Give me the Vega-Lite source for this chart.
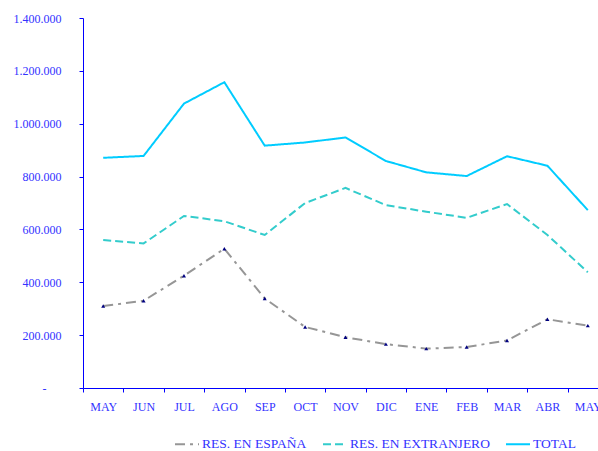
{
  "$schema": "https://vega.github.io/schema/vega-lite/v6.json",
  "width": 525,
  "height": 370,
  "autosize": "none",
  "padding": {"left": 83, "top": 18, "right": -10, "bottom": 63},
  "background": "white",
  "config": {
    "view": {"stroke": null},
    "axis": {
      "domainColor": "#0000ff",
      "tickColor": "#0000ff",
      "labelColor": "#3333ff",
      "labelFont": "Liberation Serif",
      "labelFontSize": 12,
      "grid": false,
      "title": null,
      "tickSize": 4,
      "domainWidth": 1,
      "tickWidth": 1
    },
    "legend": {
      "labelFont": "Liberation Serif",
      "labelFontSize": 13.5,
      "labelColor": "#3333ff"
    },
    "locale": {
      "number": {"decimal": ",", "thousands": ".", "grouping": [3], "currency": ["", " €"]}
    }
  },
  "data": {
    "values": [
      {"mes": "MAY", "serie": "RES. EN ESPAÑA", "valor": 310000},
      {"mes": "JUN", "serie": "RES. EN ESPAÑA", "valor": 330000},
      {"mes": "JUL", "serie": "RES. EN ESPAÑA", "valor": 425000},
      {"mes": "AGO", "serie": "RES. EN ESPAÑA", "valor": 527000},
      {"mes": "SEP", "serie": "RES. EN ESPAÑA", "valor": 339000},
      {"mes": "OCT", "serie": "RES. EN ESPAÑA", "valor": 231000},
      {"mes": "NOV", "serie": "RES. EN ESPAÑA", "valor": 192000},
      {"mes": "DIC", "serie": "RES. EN ESPAÑA", "valor": 166000},
      {"mes": "ENE", "serie": "RES. EN ESPAÑA", "valor": 149000},
      {"mes": "FEB", "serie": "RES. EN ESPAÑA", "valor": 155000},
      {"mes": "MAR", "serie": "RES. EN ESPAÑA", "valor": 180000},
      {"mes": "ABR", "serie": "RES. EN ESPAÑA", "valor": 260000},
      {"mes": "MAY ", "serie": "RES. EN ESPAÑA", "valor": 236000},
      {"mes": "MAY", "serie": "RES. EN EXTRANJERO", "valor": 560000},
      {"mes": "JUN", "serie": "RES. EN EXTRANJERO", "valor": 547000},
      {"mes": "JUL", "serie": "RES. EN EXTRANJERO", "valor": 651000},
      {"mes": "AGO", "serie": "RES. EN EXTRANJERO", "valor": 631000},
      {"mes": "SEP", "serie": "RES. EN EXTRANJERO", "valor": 579000},
      {"mes": "OCT", "serie": "RES. EN EXTRANJERO", "valor": 700000},
      {"mes": "NOV", "serie": "RES. EN EXTRANJERO", "valor": 757000},
      {"mes": "DIC", "serie": "RES. EN EXTRANJERO", "valor": 692000},
      {"mes": "ENE", "serie": "RES. EN EXTRANJERO", "valor": 667000},
      {"mes": "FEB", "serie": "RES. EN EXTRANJERO", "valor": 644000},
      {"mes": "MAR", "serie": "RES. EN EXTRANJERO", "valor": 696000},
      {"mes": "ABR", "serie": "RES. EN EXTRANJERO", "valor": 579000},
      {"mes": "MAY ", "serie": "RES. EN EXTRANJERO", "valor": 438000},
      {"mes": "MAY", "serie": "TOTAL", "valor": 871000},
      {"mes": "JUN", "serie": "TOTAL", "valor": 878000},
      {"mes": "JUL", "serie": "TOTAL", "valor": 1076000},
      {"mes": "AGO", "serie": "TOTAL", "valor": 1157000},
      {"mes": "SEP", "serie": "TOTAL", "valor": 917000},
      {"mes": "OCT", "serie": "TOTAL", "valor": 929000},
      {"mes": "NOV", "serie": "TOTAL", "valor": 948000},
      {"mes": "DIC", "serie": "TOTAL", "valor": 859000},
      {"mes": "ENE", "serie": "TOTAL", "valor": 816000},
      {"mes": "FEB", "serie": "TOTAL", "valor": 802000},
      {"mes": "MAR", "serie": "TOTAL", "valor": 877000},
      {"mes": "ABR", "serie": "TOTAL", "valor": 841000},
      {"mes": "MAY ", "serie": "TOTAL", "valor": 673000}
    ]
  },
  "encoding": {
    "x": {
      "field": "mes",
      "type": "ordinal",
      "sort": null,
      "scale": {"type": "band", "paddingInner": 0, "paddingOuter": 0},
      "axis": {"labelAngle": 0, "tickBand": "extent", "labelPadding": 9, "labelExpr": "trim(datum.label)"}
    },
    "y": {
      "field": "valor",
      "type": "quantitative",
      "scale": {"domain": [0, 1400000], "nice": false},
      "axis": {
        "values": [0, 200000, 400000, 600000, 800000, 1000000, 1200000, 1400000],
        "format": ",d",
        "labelPadding": {"condition": {"test": "datum.value == 0", "value": 33}, "value": 18},
        "labelExpr": "datum.value == 0 ? '-' : datum.label"
      }
    }
  },
  "layer": [
    {
      "mark": {"type": "line", "strokeWidth": 2},
      "encoding": {
        "color": {
          "field": "serie",
          "type": "nominal",
          "scale": {
            "domain": ["RES. EN ESPAÑA", "RES. EN EXTRANJERO", "TOTAL"],
            "range": ["#969696", "#33cccc", "#00ccff"]
          },
          "legend": {
            "title": null,
            "orient": "none",
            "direction": "horizontal",
            "legendX": 91,
            "legendY": 413,
            "symbolType": "stroke",
            "symbolSize": 576,
            "symbolStrokeWidth": 2,
            "labelOffset": 2,
            "columnPadding": 12
          }
        },
        "strokeDash": {
          "field": "serie",
          "type": "nominal",
          "scale": {
            "domain": ["RES. EN ESPAÑA", "RES. EN EXTRANJERO", "TOTAL"],
            "range": [[10, 5, 3, 5], [8, 4], [1, 0]]
          },
          "legend": {
            "title": null,
            "orient": "none",
            "direction": "horizontal",
            "legendX": 91,
            "legendY": 413,
            "symbolType": "stroke",
            "symbolSize": 576,
            "symbolStrokeWidth": 2,
            "labelOffset": 2,
            "columnPadding": 12
          }
        }
      }
    },
    {
      "transform": [{"filter": "datum.serie == 'RES. EN ESPAÑA'"}],
      "mark": {"type": "point", "shape": "triangle-up", "filled": true, "color": "#000080", "size": 16, "opacity": 1}
    }
  ]
}
